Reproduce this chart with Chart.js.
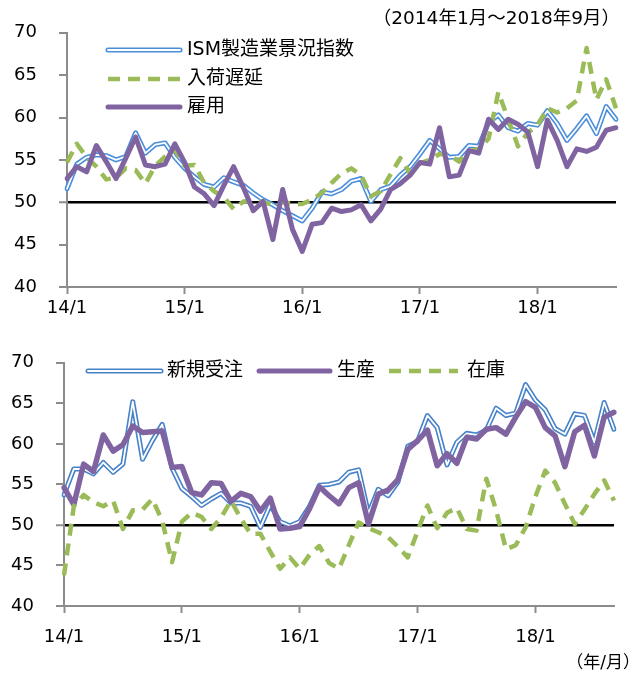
<!DOCTYPE html>
<html><head><meta charset="utf-8">
<script src="https://cdn.jsdelivr.net/npm/chart.js@4.4.1/dist/chart.umd.min.js"></script>
<style>
html,body{margin:0;padding:0;background:#fff;}
#wrap{position:relative;width:640px;height:675px;overflow:hidden;background:#fff;}
canvas{position:absolute;left:0;}
#c1{top:0;}
#c2{top:330px;}
</style></head><body>
<div id="wrap">
<canvas id="c1" width="640" height="330"></canvas>
<canvas id="c2" width="640" height="345"></canvas>
</div>
<script>
// ---- categories (2014/1 .. 2018/9) ----
const years = [14, 15, 16, 17, 18];
const months = [];
years.forEach(y => { for (let m = 1; m <= 12; m++) { if (y === 18 && m > 9) break; months.push(y + '/' + m); } });
const yMin = 40, yMax = 70, yStep = 5;

// ---- top panel series ----
const ismIndex = [
  51.6, 54.5, 55.3, 55.6, 55.5, 55.0, 55.4, 58.2, 55.8, 56.8, 57.0, 55.3,
  54.0, 53.0, 52.1, 51.8, 52.9, 52.4, 52.0, 51.1, 50.3, 49.7, 49.0, 48.4,
  47.8, 49.3, 51.2, 51.0, 51.5, 52.5, 52.8, 50.1, 51.5, 51.9, 53.2, 54.2,
  55.7, 57.3, 56.3, 55.3, 55.4, 56.7, 56.6, 59.4, 60.3, 58.8, 58.4, 59.3,
  59.1, 60.8, 59.3, 57.3, 58.7, 60.2, 58.1, 61.3, 59.8
];
const supplierDeliveries = [
  54.7, 56.9, 55.3, 54.2, 52.7, 52.9, 54.0, 53.8, 52.2, 54.3, 55.4, 56.2,
  54.3, 54.4, 52.3, 51.3, 50.6, 49.2, 50.1, 50.2, 50.0, 49.7, 50.0, 49.8,
  49.8, 50.3, 51.1, 52.3, 53.4, 54.0, 53.2, 50.7, 51.3, 53.3, 55.2, 53.4,
  54.6, 55.0, 55.7, 55.6, 54.8, 56.0, 56.3, 57.5, 63.0, 59.8, 56.6, 58.2,
  59.1, 61.1, 60.6, 61.1, 62.0, 68.2, 62.1, 64.5, 61.1
];
const employment = [
  52.8, 54.2, 53.6, 56.7, 54.8, 52.8, 55.2, 57.7, 54.4, 54.2, 54.5, 56.9,
  54.7, 51.8, 51.0, 49.6, 52.0, 54.2, 51.7, 49.0, 50.1, 45.6, 51.5, 46.8,
  44.2, 47.4, 47.6, 49.3, 48.9, 49.1, 49.7, 47.8, 49.2, 51.5, 52.2, 53.2,
  54.7, 54.5, 58.8, 53.0, 53.2, 56.1, 55.8, 59.8, 58.6, 59.8, 59.2, 58.3,
  54.2, 59.7, 57.3, 54.2, 56.3, 56.0, 56.5, 58.5, 58.8
];

// ---- bottom panel series ----
const newOrders = [
  53.7, 56.9, 56.9, 56.3, 57.7, 56.5, 57.5, 65.2, 58.1, 60.4, 62.4, 57.0,
  54.5, 53.5, 52.4, 53.2, 53.9, 52.7, 52.7, 52.3, 49.7, 52.5, 50.4, 49.9,
  50.4, 52.3, 54.9, 55.0, 55.3, 56.5, 56.8, 51.4, 54.4, 53.6, 55.3, 59.7,
  60.3, 63.5, 62.0, 57.4, 60.2, 61.3, 61.1, 61.7, 64.4, 63.5, 63.8, 67.3,
  65.4, 64.2, 61.9, 61.2, 63.7, 63.5, 60.2, 65.1, 61.8
];
const production = [
  54.6, 52.5, 57.5, 56.6, 61.1, 59.1, 59.9, 62.2, 61.4, 61.5, 61.6, 57.1,
  57.2, 54.0, 53.7, 55.2, 55.1, 52.9, 53.9, 53.5, 51.7, 53.3, 49.5, 49.6,
  49.8, 52.0, 54.7, 53.6, 52.6, 54.6, 55.2, 50.1, 53.8, 54.3, 55.6, 59.3,
  60.4, 61.7, 57.3, 58.8, 57.6, 60.8, 60.6, 61.8, 62.0, 61.2, 63.3, 65.2,
  64.5, 62.0, 61.0, 57.2, 61.5, 62.3, 58.5, 63.3, 63.9
];
const inventories = [
  43.8, 52.3, 53.7, 52.8, 52.3, 53.0, 49.5, 51.8, 51.9, 53.2, 50.5, 45.4,
  50.4, 51.5, 51.0, 49.5, 50.9, 53.0, 50.8, 48.9, 48.9, 46.7, 44.6, 46.0,
  44.6, 46.3, 47.4, 45.3, 44.6, 47.5, 50.3, 49.6, 49.1, 48.5, 47.3, 46.0,
  49.2, 52.4, 49.6, 51.5, 52.1, 49.5, 49.3, 55.7, 51.8, 47.0, 47.5, 49.7,
  53.5, 56.7, 55.2, 52.6, 50.1, 51.9, 53.8, 55.5, 53.0
];

// ---- labels ----
const topLabels = ['ISM製造業景況指数', '入荷遅延', '雇用'];
const bottomLabels = ['新規受注', '生産', '在庫'];
const periodNote = '（2014年1月～2018年9月）';
const unitNote = '（年/月）';

// ---- styles ----
const FONT = '"DejaVu Sans", "Noto Sans CJK JP", sans-serif';
const BLUE = '#4a8edb';
const BLUE2 = '#4682c8';
const GREEN = '#9bbb59';
const PURPLE = '#8064a2';
const AXIS = '#8c8c8c';
const DASH = [12, 8];

Chart.defaults.font.family = FONT;
Chart.defaults.color = '#000';

function drawSample(ctx, type, color, x1, x2, y) {
  ctx.save();
  ctx.lineJoin = 'round';
  if (type === 'double') {
    ctx.lineCap = 'round';
    ctx.strokeStyle = color; ctx.lineWidth = 5;
    ctx.beginPath(); ctx.moveTo(x1, y); ctx.lineTo(x2, y); ctx.stroke();
    ctx.strokeStyle = '#fff'; ctx.lineWidth = 1.8;
    ctx.beginPath(); ctx.moveTo(x1, y); ctx.lineTo(x2, y); ctx.stroke();
  } else if (type === 'dash') {
    ctx.lineCap = 'butt'; ctx.setLineDash(DASH);
    ctx.strokeStyle = color; ctx.lineWidth = 4.5;
    ctx.beginPath(); ctx.moveTo(x1, y); ctx.lineTo(x2, y); ctx.stroke();
  } else {
    ctx.lineCap = 'round';
    ctx.strokeStyle = color; ctx.lineWidth = 5;
    ctx.beginPath(); ctx.moveTo(x1, y); ctx.lineTo(x2, y); ctx.stroke();
  }
  ctx.restore();
}

const overlayPlugin = {
  id: 'overlay',
  afterDraw(chart, args, opts) {
    const ctx = chart.ctx;
    (opts.items || []).forEach(it => {
      drawSample(ctx, it.type, it.color, it.x1, it.x2, it.y);
      ctx.save();
      ctx.font = (it.size || 18) + 'px ' + FONT;
      ctx.fillStyle = '#000'; ctx.textBaseline = 'middle'; ctx.textAlign = 'left';
      ctx.fillText(it.label, it.tx, it.y);
      ctx.restore();
    });
    (opts.texts || []).forEach(t => {
      ctx.save();
      ctx.font = t.size + 'px ' + FONT;
      ctx.fillStyle = '#000'; ctx.textBaseline = 'middle'; ctx.textAlign = t.align || 'left';
      ctx.fillText(t.text, t.x, t.y);
      ctx.restore();
    });
  }
};

function lineDs(data, color, width, dash, order) {
  return {
    data, borderColor: color, borderWidth: width, pointRadius: 0, tension: 0,
    borderDash: dash || [], borderJoinStyle: 'round',
    borderCapStyle: dash ? 'butt' : 'round', fill: false, order
  };
}

function makeScales(yWidth, xHeight, labelPad) {
  return {
    x: {
      type: 'category', offset: false,
      border: { display: true, color: AXIS, width: 2 },
      grid: {
        drawOnChartArea: false, drawTicks: true, tickLength: 7, tickWidth: 2,
        tickColor: c => (c.index % 12 === 0 ? AXIS : 'rgba(0,0,0,0)')
      },
      ticks: {
        autoSkip: false, maxRotation: 0, minRotation: 0, padding: labelPad,
        font: { size: 18 }, color: '#000',
        callback: function (v, i) { return i % 12 === 0 ? this.getLabelForValue(v) : ''; }
      },
      afterFit: s => { s.height = xHeight; }
    },
    y: {
      min: yMin, max: yMax,
      border: { display: true, color: AXIS, width: 2 },
      grid: {
        drawOnChartArea: true, drawTicks: true, tickLength: 8, tickWidth: 2, tickColor: AXIS,
        color: c => (c.tick && c.tick.value === 50 ? '#000' : 'rgba(0,0,0,0)'),
        lineWidth: c => (c.tick && c.tick.value === 50 ? 2.5 : 0)
      },
      ticks: { stepSize: yStep, padding: 22, font: { size: 18 }, color: '#000' },
      afterFit: s => { s.width = yWidth; }
    }
  };
}

// ---- top chart ----
new Chart(document.getElementById('c1'), {
  type: 'line',
  data: {
    labels: months,
    datasets: [
      lineDs(employment, PURPLE, 5, null, 0),
      lineDs(supplierDeliveries, GREEN, 4.5, DASH, 1),
      lineDs(ismIndex, '#fff', 1.8, null, 2),
      lineDs(ismIndex, BLUE, 5, null, 3)
    ]
  },
  options: {
    responsive: false, animation: false, devicePixelRatio: 1,
    layout: { padding: { top: 29, right: 24, left: 0, bottom: 0 } },
    plugins: {
      legend: { display: false }, tooltip: { enabled: false },
      overlay: {
        items: [
          { type: 'double', color: BLUE, x1: 108, x2: 180, y: 50, tx: 187, label: topLabels[0], size: 19 },
          { type: 'dash', color: GREEN, x1: 108, x2: 180, y: 79, tx: 187, label: topLabels[1], size: 19 },
          { type: 'solid', color: PURPLE, x1: 108, x2: 180, y: 107, tx: 187, label: topLabels[2], size: 19 }
        ],
        texts: [{ text: periodNote, x: 620, y: 19, size: 18.5, align: 'right' }]
      }
    },
    scales: makeScales(67, 43, 4)
  },
  plugins: [overlayPlugin]
});

// ---- bottom chart ----
new Chart(document.getElementById('c2'), {
  type: 'line',
  data: {
    labels: months,
    datasets: [
      lineDs(inventories, GREEN, 4.5, DASH, 0),
      lineDs(production, PURPLE, 5.5, null, 1),
      lineDs(newOrders, '#fff', 1.8, null, 2),
      lineDs(newOrders, BLUE2, 5, null, 3)
    ]
  },
  options: {
    responsive: false, animation: false, devicePixelRatio: 1,
    layout: { padding: { top: 32, right: 26, left: 0, bottom: 0 } },
    plugins: {
      legend: { display: false }, tooltip: { enabled: false },
      overlay: {
        items: [
          { type: 'double', color: BLUE2, x1: 88, x2: 161, y: 41, tx: 167, label: bottomLabels[0], size: 19 },
          { type: 'solid', color: PURPLE, x1: 259, x2: 330, y: 41, tx: 337, label: bottomLabels[1], size: 19 },
          { type: 'dash', color: GREEN, x1: 389, x2: 458, y: 41, tx: 467, label: bottomLabels[2], size: 19 }
        ],
        texts: [{ text: unitNote, x: 640, y: 334, size: 17, align: 'right' }]
      }
    },
    scales: makeScales(64, 69, 14)
  },
  plugins: [overlayPlugin]
});
</script>
</body></html>
